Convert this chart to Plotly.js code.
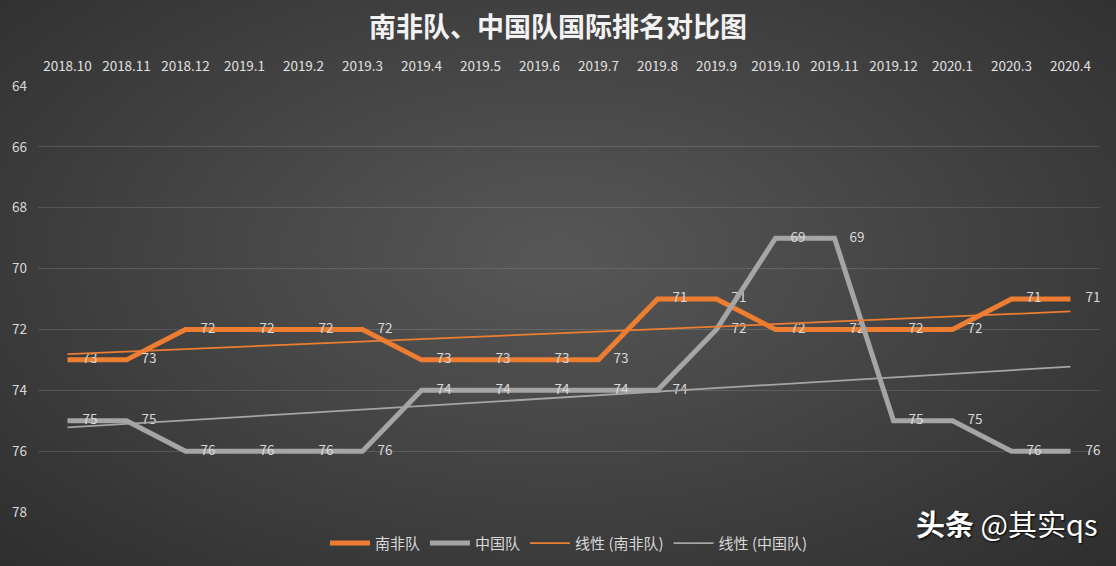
<!DOCTYPE html>
<html>
<head>
<meta charset="utf-8">
<script src="https://cdn.plot.ly/plotly-3.0.1.min.js"></script>
<style>
  html, body { margin: 0; padding: 0; }
  #chart {
    width: 1116px; height: 566px;
    background: radial-gradient(ellipse at 50% 45%, #575757 0%, #474747 40%, #2e2e2e 100%);
  }
</style>
</head>
<body>
<div id="chart"></div>
<script>
const months = ["2018.10","2018.11","2018.12","2019.1","2019.2","2019.3","2019.4","2019.5","2019.6","2019.7","2019.8","2019.9","2019.10","2019.11","2019.12","2020.1","2020.3","2020.4"];
const southAfrica = [73,73,72,72,72,72,73,73,73,73,71,71,72,72,72,72,71,71];
const china = [75,75,76,76,76,76,74,74,74,74,74,72,69,69,75,75,76,76];
const yTicks = [64,66,68,70,72,74,76,78];

function linearFit(vals) {
  const n = vals.length;
  const xs = vals.map((_, i) => i + 1);
  const mx = xs.reduce((a, b) => a + b, 0) / n;
  const my = vals.reduce((a, b) => a + b, 0) / n;
  let sxy = 0, sxx = 0;
  for (let i = 0; i < n; i++) { sxy += (xs[i] - mx) * (vals[i] - my); sxx += (xs[i] - mx) ** 2; }
  const b = sxy / sxx, a = my - b * mx;
  return xs.map(x => a + b * x);
}

const FONT = '"Noto Sans CJK SC", "Noto Sans", sans-serif';
const ORANGE = '#ED7D31';
const GRAY = '#A5A5A5';

const traces = [
  {
    x: months, y: southAfrica, name: '南非队', type: 'scatter', mode: 'lines+text',
    line: { color: ORANGE, width: 5 },
    text: southAfrica.map(v => '     ' + v), textposition: 'middle right',
    textfont: { color: '#d9d9d9', size: 13.5, family: FONT },
    cliponaxis: false, hoverinfo: 'x+y'
  },
  {
    x: months, y: china, name: '中国队', type: 'scatter', mode: 'lines+text',
    line: { color: GRAY, width: 5 },
    text: china.map(v => '     ' + v), textposition: 'middle right',
    textfont: { color: '#d9d9d9', size: 13.5, family: FONT },
    cliponaxis: false, hoverinfo: 'x+y'
  },
  {
    x: months, y: linearFit(southAfrica), name: '线性 (南非队)', type: 'scatter', mode: 'lines',
    line: { color: ORANGE, width: 1.75 }
  },
  {
    x: months, y: linearFit(china), name: '线性 (中国队)', type: 'scatter', mode: 'lines',
    line: { color: GRAY, width: 1.75 }
  }
];

const layout = {
  width: 1116, height: 566,
  paper_bgcolor: 'rgba(0,0,0,0)', plot_bgcolor: 'rgba(0,0,0,0)',
  margin: { l: 38, r: 16, t: 86, b: 54 },
  font: { family: FONT, color: '#d9d9d9', size: 13 },
  title: {
    text: '<b>南非队、中国队国际排名对比图</b>',
    font: { family: FONT, size: 27, color: '#f2f2f2' },
    x: 0.5, xanchor: 'center', y: 0.952, yanchor: 'middle', yref: 'container'
  },
  xaxis: {
    type: 'category', side: 'top', range: [-0.5, 17.5],
    showgrid: false, zeroline: false, showline: false, ticks: '',
    tickfont: { size: 13.5, color: '#e0e0e0', family: FONT },
    ticklabelstandoff: 11
  },
  yaxis: {
    range: [78, 64], tickvals: yTicks, ticktext: yTicks.map(String),
    showgrid: true, gridcolor: 'rgba(255,255,255,0.13)', gridwidth: 1,
    zeroline: false, showline: false, ticks: '',
    tickfont: { size: 13.5, color: '#d9d9d9', family: FONT },
    ticklabelstandoff: 10
  },
  showlegend: true,
  legend: {
    orientation: 'h', x: 0.5, xanchor: 'center', y: 0.04, yanchor: 'middle', yref: 'container',
    font: { size: 15, color: '#d9d9d9', family: FONT }, bgcolor: 'rgba(0,0,0,0)',
    itemwidth: 40
  },
  annotations: [
    {
      text: '<b>头条</b> @其实qs', xref: 'paper', yref: 'paper', x: 1.0, y: -0.025,
      xanchor: 'right', yanchor: 'middle', showarrow: false,
      font: { family: FONT, size: 29, color: '#ffffff', shadow: '1px 1px 2px #000' }
    }
  ]
};

Plotly.newPlot('chart', traces, layout, { displayModeBar: false, staticPlot: true });
</script>
</body>
</html>
